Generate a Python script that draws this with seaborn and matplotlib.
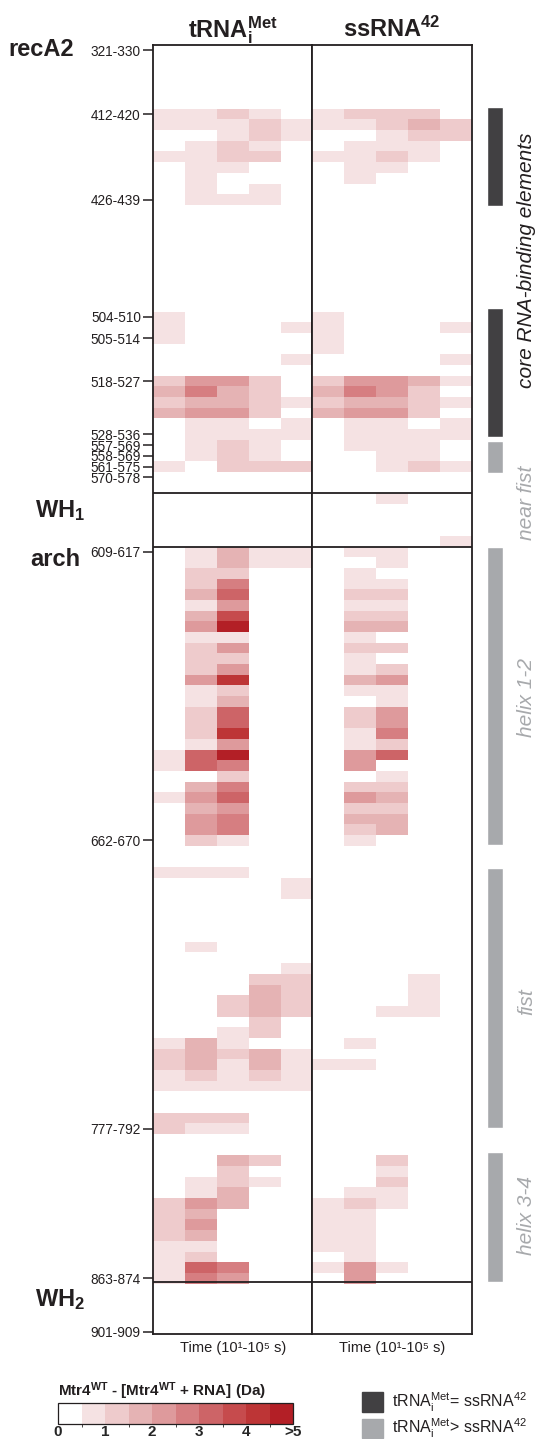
import numpy as np
import pandas as pd
import seaborn as sns
import matplotlib.pyplot as plt
from matplotlib.colors import ListedColormap, BoundaryNorm
from matplotlib.cm import ScalarMappable

sns.set_style('white')
plt.rcParams['font.family'] = ['Liberation Sans', 'DejaVu Sans']
plt.rcParams['mathtext.fontset'] = 'custom'
plt.rcParams['mathtext.rm'] = 'Liberation Sans'
plt.rcParams['mathtext.it'] = 'Liberation Sans:italic'
plt.rcParams['mathtext.bf'] = 'Liberation Sans:bold'

# peptides (rows, N- to C-terminal); only some rows carry a label
tick_rows = [0, 6, 14, 25, 27, 31, 36, 37, 38, 39, 40, 47, 74, 101, 115, 120]
tick_labels = ['321-330', '412-420', '426-439', '504-510', '505-514', '518-527',
               '528-536', '557-569', '558-569', '561-575', '570-578', '609-617',
               '662-670', '777-792', '863-874', '901-909']
timepoints = ['10 s', '100 s', '1000 s', '10000 s', '100000 s']

# deuterium difference per peptide / timepoint, in 0.5 Da steps (0 -> <0.5, 9 -> >4.5)
trna_bins = [
    '00000', '00000', '00000', '00000', '00000', '00000', '11210', '11121',
    '00121', '01210', '11220', '01100', '01000', '01010', '01110', '00000',
    '00000', '00000', '00000', '00000', '00000', '00000', '00000', '00000',
    '00000', '10000', '10001', '10000', '00000', '00001', '00000', '24420',
    '35320', '23321', '34420', '01101', '01111', '01210', '01210', '10222',
    '00000', '00000', '00000', '00000', '00000', '00000', '00000', '01311',
    '01311', '02200', '02500', '03600', '01400', '03700', '04900', '01100',
    '02400', '02200', '02400', '04800', '01200', '01300', '02600', '02600',
    '02800', '01400', '16900', '16500', '00200', '03500', '14600', '03400',
    '04500', '04500', '02100', '00000', '00000', '11100', '00001', '00001',
    '00000', '00000', '00000', '00000', '01000', '00000', '00001', '00022',
    '00032', '00232', '00232', '00020', '00120', '13100', '23231', '23131',
    '12121', '11111', '00000', '00000', '22200', '21100', '00000', '00000',
    '00320', '00200', '01210', '01300', '24300', '23000', '24000', '23000',
    '11000', '12000', '16500', '15400', '00000', '00000', '00000', '00000',
    '00000',
]
ssrna_bins = [
    '00000', '00000', '00000', '00000', '00000', '00000', '12220', '11232',
    '00122', '01110', '11210', '01100', '01000', '00000', '00000', '00000',
    '00000', '00000', '00000', '00000', '00000', '00000', '00000', '00000',
    '00000', '10000', '10001', '10000', '10000', '00001', '00000', '24431',
    '35420', '23321', '34420', '01101', '01111', '01110', '00110', '00121',
    '00000', '00000', '00100', '00000', '00000', '00000', '00001', '01100',
    '00100', '01000', '01100', '02200', '01100', '02200', '03300', '01000',
    '02200', '01000', '01200', '03400', '01100', '00100', '02400', '02400',
    '01500', '01200', '04600', '04000', '00100', '02200', '04300', '02200',
    '03300', '02300', '01000', '00000', '00000', '00000', '00000', '00000',
    '00000', '00000', '00000', '00000', '00000', '00000', '00000', '00010',
    '00010', '00010', '00110', '00000', '00000', '01000', '00000', '11000',
    '00000', '00000', '00000', '00000', '00000', '00000', '00000', '00000',
    '00200', '00100', '00200', '01100', '12100', '11000', '11000', '11000',
    '11000', '01000', '14100', '04000', '00000', '00000', '00000', '00000',
    '00000',
]

# domain boundaries (row index) and structural annotations on the right
domain_lines = [42, 47, 115.9]
bar_starts = [5.85, 24.7, 37.1, 47.0, 77.1, 103.7]
bar_ends = [15.1, 36.7, 40.1, 74.9, 101.4, 115.9]
bar_dark = [True, True, False, False, False, False]
region_labels = ['core RNA-binding elements', 'near fist', 'helix 1-2', 'fist', 'helix 3-4']
region_label_rows = [20.2, 42.9, 61.1, 89.6, 109.6]

colors = ['#ffffff', '#f5e2e3', '#eecbcc', '#e5b3b4', '#de9a9c',
          '#d67e81', '#cd6467', '#c64b4d', '#bd3536', '#b31f26']
cmap = ListedColormap(colors)
norm = BoundaryNorm(np.arange(0, 5.01, 0.5), cmap.N)

dark = '#231f20'
bar_dark_col = '#414042'
bar_light_col = '#a7a9ac'

def to_frame(rows):
    vals = np.array([[int(c) for c in r] for r in rows]) * 0.5
    return pd.DataFrame(vals, columns=timepoints)

trna = to_frame(trna_bins)
ssrna = to_frame(ssrna_bins)

W, H = 540, 1439
fig = plt.figure(figsize=(W / 100, H / 100), dpi=100)

def box(x0, y0, x1, y1):
    return [x0 / W, 1 - y1 / H, (x1 - x0) / W, (y1 - y0) / H]

top, row_h = 44.66, 10.68
y_end = 120.72
bottom = top + y_end * row_h

ax1 = fig.add_axes(box(153.3, top, 312.3, bottom))
ax2 = fig.add_axes(box(312.3, top, 471.5, bottom))

for ax, df in [(ax1, trna), (ax2, ssrna)]:
    sns.heatmap(df, ax=ax, cmap=cmap, norm=norm, cbar=False,
                xticklabels=False, yticklabels=False)
    ax.set_ylim(y_end, 0)
    for sp in ax.spines.values():
        sp.set_visible(True)
        sp.set_color(dark)
        sp.set_linewidth(1.3)
    for y in domain_lines:
        ax.axhline(y, color=dark, lw=1.3)
    ax.set_xlabel('Time (10¹-10⁵ s)', fontsize=10.5, color=dark, labelpad=5)

ax1.set_yticks([r + 0.5 for r in tick_rows])
ax1.set_yticklabels(tick_labels, fontsize=9.8, color=dark)
ax1.tick_params(axis='y', left=True, length=7, width=1.1, color=dark, pad=2)

# panel titles
fig.text(233 / W, 1 - 37 / H, r'$\mathbf{tRNA}_{\mathbf{i}}^{\mathbf{Met}}$',
         ha='center', va='baseline', fontsize=17, color=dark)
fig.text(392 / W, 1 - 37 / H, r'$\mathbf{ssRNA}^{\mathbf{42}}$',
         ha='center', va='baseline', fontsize=17, color=dark)

# domain names
fig.text(8 / W, 1 - 50 / H, 'recA2', fontsize=17, fontweight='bold', va='center', color=dark)
fig.text(35 / W, 1 - 511 / H, r'WH$_{\mathbf{1}}$', fontsize=17, fontweight='bold', va='center', color=dark)
fig.text(30 / W, 1 - 559 / H, 'arch', fontsize=17, fontweight='bold', va='center', color=dark)
fig.text(35 / W, 1 - 1300 / H, r'WH$_{\mathbf{2}}$', fontsize=17, fontweight='bold', va='center', color=dark)

# structural annotation bars
axr = fig.add_axes(box(480, top, 540, bottom))
axr.set_xlim(0, 60)
axr.set_ylim(y_end, 0)
axr.axis('off')
for s, e, d in zip(bar_starts, bar_ends, bar_dark):
    axr.bar(15, e - s, bottom=s, width=16, color=bar_dark_col if d else bar_light_col)
for i, (lab, r) in enumerate(zip(region_labels, region_label_rows)):
    axr.text(47, r, lab, rotation=90, ha='center', va='center', fontsize=15,
             style='italic', color=dark if i == 0 else bar_light_col)

# colour bar
cax = fig.add_axes(box(58, 1403, 293, 1424))
cb = fig.colorbar(ScalarMappable(norm=norm, cmap=cmap), cax=cax,
                  orientation='horizontal', ticks=[0, 1, 2, 3, 4, 5])
cb.set_ticklabels(['0', '1', '2', '3', '4', '>5'])
cb.outline.set_linewidth(0.9)
cb.outline.set_edgecolor(dark)
cax.tick_params(length=0, pad=1, labelsize=11)
for t in cax.get_xticklabels():
    t.set_fontweight('bold')
fig.text(58 / W, 1 - 1391 / H,
         r'Mtr4$^{\mathbf{WT}}$ - [Mtr4$^{\mathbf{WT}}$ + RNA] (Da)',
         fontsize=11, fontweight='bold', va='center', color=dark)

# legend for the annotation bars
fig.patches.append(plt.Rectangle((362 / W, 1 - 1412 / H), 21 / W, 20 / H,
                                 transform=fig.transFigure, color=bar_dark_col))
fig.patches.append(plt.Rectangle((362 / W, 1 - 1438 / H), 21 / W, 19 / H,
                                 transform=fig.transFigure, color=bar_light_col))
fig.text(392 / W, 1 - 1402 / H, r'tRNA$_{\mathrm{i}}^{\mathrm{Met}}$= ssRNA$^{42}$',
         fontsize=11.5, va='center', color=dark)
fig.text(392 / W, 1 - 1428 / H, r'tRNA$_{\mathrm{i}}^{\mathrm{Met}}$> ssRNA$^{42}$',
         fontsize=11.5, va='center', color=dark)

fig.savefig('out.png', dpi=100)
